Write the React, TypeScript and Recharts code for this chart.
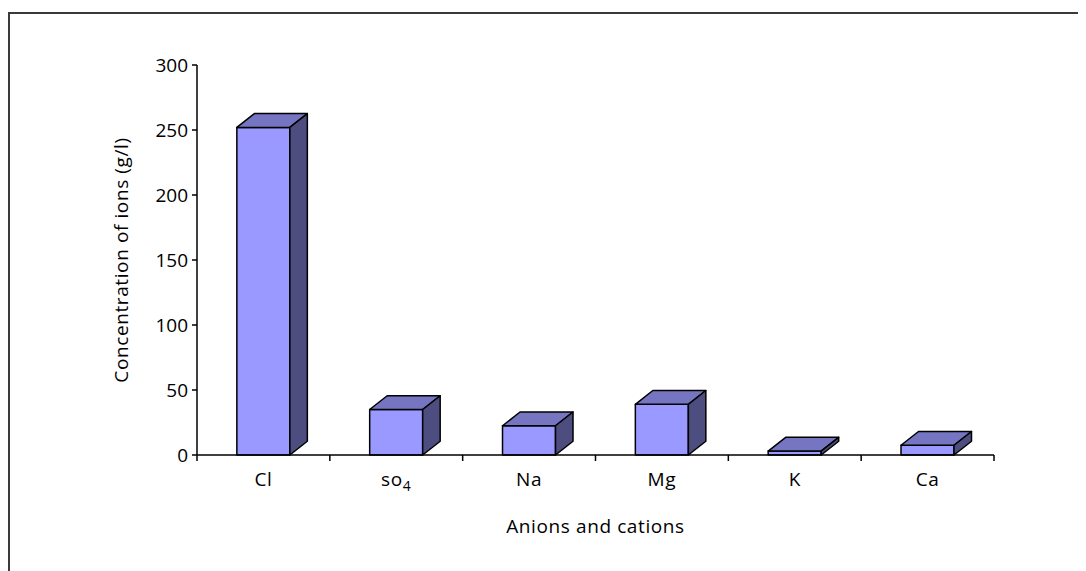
import React from 'react';
import { BarChart, Bar, XAxis, YAxis } from 'recharts';

const categories = ['Cl', 'so4', 'Na', 'Mg', 'K', 'Ca'];
const concentrations = [252, 35, 22.5, 39, 3, 7.5];
const yTicks = [0, 50, 100, 150, 200, 250, 300];

const data = categories.map((name, i) => ({ name, value: concentrations[i] }));

const FONT = '"Open Sans", sans-serif';
const FS = 19;
const LS = 0.6;
const FRONT = '#9999FF';
const TOP = '#7575C2';
const SIDE = '#4D4D80';
const TICK_MARGIN = 18;
const TICK_LEN = 6;

const Bar3D = (props: any) => {
  const { x, y, width, height } = props;
  const dx = width * 0.33;
  const dy = width * 0.26;
  const top = `${x},${y} ${x + dx},${y - dy} ${x + width + dx},${y - dy} ${x + width},${y}`;
  const side = `${x + width},${y} ${x + width + dx},${y - dy} ${x + width + dx},${y + height - dy} ${x + width},${y + height}`;
  return (
    <g stroke="#000" strokeWidth={1.5} strokeLinejoin="round">
      <rect x={x} y={y} width={width} height={height} fill={FRONT} />
      <polygon points={top} fill={TOP} />
      <polygon points={side} fill={SIDE} />
    </g>
  );
};

const CatTick = (props: any) => {
  const { x, y, payload, index, visibleTicksCount, width } = props;
  const v: string = payload.value;
  const half =
    typeof payload.offset === 'number' && payload.offset > 0
      ? payload.offset
      : width / visibleTicksCount / 2;
  const axisY = y - TICK_MARGIN;
  const isLast = index === visibleTicksCount - 1;
  const label =
    v === 'so4' ? (
      <text x={x} y={y} dy="0.71em" textAnchor="middle" fontFamily={FONT} fontSize={FS} letterSpacing={LS} fill="#000">
        <tspan>so</tspan>
        <tspan fontSize={14} dy={5}>4</tspan>
      </text>
    ) : (
      <text x={x} y={y} dy="0.71em" textAnchor="middle" fontFamily={FONT} fontSize={FS} letterSpacing={LS} fill="#000">
        {v}
      </text>
    );
  return (
    <g>
      <line x1={x - half} x2={x - half} y1={axisY} y2={axisY + TICK_LEN} stroke="#000" strokeWidth={1.5} />
      {isLast && (
        <line x1={x + half} x2={x + half} y1={axisY} y2={axisY + TICK_LEN} stroke="#000" strokeWidth={1.5} />
      )}
      {label}
    </g>
  );
};

export default function App() {
  return (
    <div style={{ position: 'relative', width: 1078, height: 563, overflow: 'hidden', background: '#fff' }}>
      <div
        style={{
          position: 'absolute',
          left: 0,
          top: 4,
          width: 1200,
          height: 700,
          borderLeft: '2px solid #3a3a3a',
          borderTop: '2px solid #3a3a3a',
          boxSizing: 'border-box',
        }}
      />
      <div style={{ position: 'absolute', left: 0, top: 0 }}>
        <BarChart
          width={1078}
          height={563}
          data={data}
          margin={{ top: 57, right: 92, bottom: 16, left: 109 }}
          barCategoryGap="30%"
        >
          <XAxis
            dataKey="name"
            axisLine={{ stroke: '#000', strokeWidth: 1.5 }}
            tickLine={false}
            tickSize={0}
            tickMargin={TICK_MARGIN}
            height={100}
            tick={<CatTick />}
            interval={0}
            label={{
              value: 'Anions and cations',
              position: 'insideBottom',
              offset: 22,
              fontFamily: FONT,
              fontSize: FS,
              letterSpacing: LS,
              fill: '#000',
            }}
          />
          <YAxis
            domain={[0, 300]}
            ticks={yTicks}
            interval={0}
            width={80}
            tickSize={5}
            tickMargin={4}
            axisLine={{ stroke: '#000', strokeWidth: 1.5 }}
            tickLine={{ stroke: '#000', strokeWidth: 1.5 }}
            tick={{ fontFamily: FONT, fontSize: FS, fill: '#000' }}
            label={{
              value: 'Concentration of ions (g/l)',
              angle: -90,
              position: 'insideLeft',
              offset: 4,
              fontFamily: FONT,
              fontSize: FS,
              letterSpacing: LS,
              fill: '#000',
              style: { textAnchor: 'middle' },
            }}
          />
          <Bar dataKey="value" shape={<Bar3D />} isAnimationActive={false} />
        </BarChart>
      </div>
    </div>
  );
}
